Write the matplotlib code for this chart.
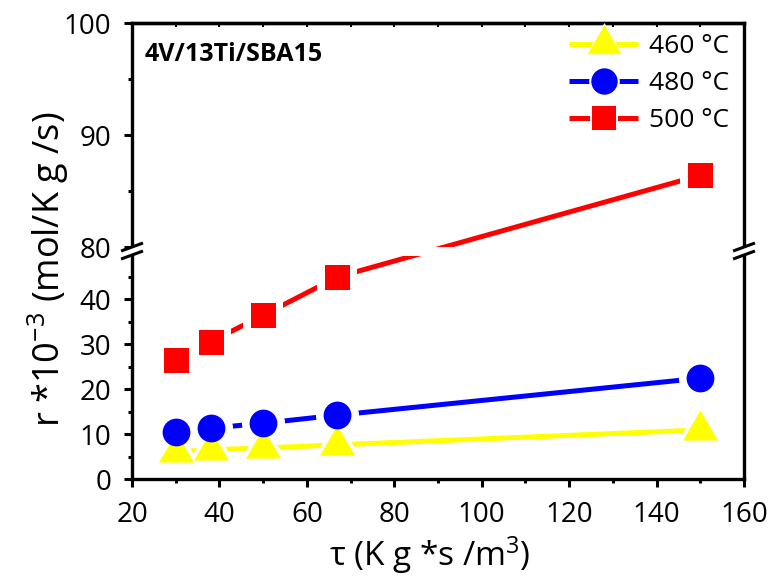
import numpy as np
import matplotlib
matplotlib.use('Agg')
import matplotlib.pyplot as plt
from matplotlib.lines import Line2D
from matplotlib.patches import Polygon
from matplotlib.legend_handler import HandlerTuple

# data
tau = [30, 38, 50, 67, 150]
r_460 = [6.1, 6.5, 6.9, 7.6, 10.9]
r_480 = [10.5, 11.3, 12.4, 14.2, 22.4]
r_500 = [26.4, 30.5, 36.4, 44.9, 86.4]
labels = ['460 °C', '480 °C', '500 °C']
colors = ['#ffff00', '#0000ff', '#ff0000']

y_major = [0, 10, 20, 30, 40, 80, 90, 100]
y_minor = [5, 15, 25, 35, 45, 85, 95]
x_major = list(range(20, 161, 20))
x_minor = list(range(30, 151, 20))

plt.rcParams['font.family'] = ['Open Sans', 'DejaVu Sans']
plt.rcParams['mathtext.fontset'] = 'custom'
plt.rcParams['mathtext.rm'] = 'Open Sans'
plt.rcParams['mathtext.default'] = 'rm'

# broken y axis: 0-49.5 below, 80-100 above, squeezed gap in between
y_in = [0, 49.5, 80, 100]
y_out = [0, 222.75, 232, 456]


def fwd(v):
  v = np.asarray(v, float)
  return np.where(v < 0, v * 4.5,
                  np.where(v > 100, 456 + (v - 100) * 11.2, np.interp(v, y_in, y_out)))


def inv(p):
  p = np.asarray(p, float)
  return np.where(p < 0, p / 4.5,
                  np.where(p > 456, 100 + (p - 456) / 11.2, np.interp(p, y_out, y_in)))


tri = [(0, 1), (-0.866, -0.5), (0.866, -0.5)]
series = [(r_460, tri, 29), (r_480, 'o', 20), (r_500, 's', 18)]

fig = plt.figure(figsize=(7.73, 5.8), dpi=100)
ax = fig.add_axes([0.1708, 0.1741, 0.7917, 0.7862])
ax.set_yscale('function', functions=(fwd, inv))

handles = []
for (y, m, ms), c in zip(series, colors):
  ax.plot(tau, y, color=c, lw=3.6, zorder=2, solid_capstyle='butt')
  ax.plot(tau, y, ls='none', marker=m, ms=ms + 11, color='white', mew=0, zorder=3)
  ax.plot(tau, y, ls='none', marker=m, ms=ms, color=c, mew=0, zorder=4)
  h = (Line2D([], [], color=c, lw=3.6, solid_capstyle='butt'),
       Line2D([], [], ls='none', marker=m, ms=ms + 2, color='white', mew=0),
       Line2D([], [], ls='none', marker=m, ms=ms - 1, color=c, mew=0))
  handles.append(h)

# gap across the plot at the break
ax.axhspan(49.5, 80, color='white', lw=0, zorder=2.2)

ax.set_xlim(20, 160)
ax.set_ylim(0, 100)
ax.set_xticks(x_major)
ax.set_xticks(x_minor, minor=True)
ax.set_yticks(y_major)
ax.set_yticks(y_minor, minor=True)
ax.tick_params(which='major', direction='out', length=6, width=2.2, labelsize=20)
ax.tick_params(which='minor', direction='out', length=3, width=2.2)
ax.tick_params(axis='x', which='major', pad=10)
ax.tick_params(axis='y', which='major', pad=9)
for s in ax.spines.values():
  s.set_linewidth(2.4)

top = ax.secondary_xaxis('top')
top.set_xticks(x_major + x_minor)
top.tick_params(direction='in', length=3, width=1.5, labeltop=False)
top.spines['top'].set_linewidth(2.4)

# break marks on left and right spines
dx = 9.5 / 612
t = 3.5 / 456
ys = [0.5 - 4 / 456, 0.5 + 4 / 456]
for x0 in [0, 1]:
  poly = Polygon([(x0 - dx, ys[0] - t), (x0 + dx, ys[0] + t),
                  (x0 + dx, ys[1] + t), (x0 - dx, ys[1] - t)],
                 closed=True, transform=ax.transAxes, color='white',
                 lw=0, clip_on=False, zorder=5)
  ax.add_patch(poly)
  for yc in ys:
    ax.plot([x0 - dx, x0 + dx], [yc - t, yc + t], color='black', lw=2.2,
            transform=ax.transAxes, clip_on=False, zorder=6)

ax.text(0.02, 0.93, '4V/13Ti/SBA15', transform=ax.transAxes,
        fontsize=18, fontweight='bold', va='center', ha='left')

ax.legend(handles, labels, handler_map={tuple: HandlerTuple(ndivide=1, pad=0)},
          loc='upper right', bbox_to_anchor=(0.975, 0.975), frameon=False,
          fontsize=19, handlelength=2.6, handletextpad=0.4, labelspacing=0.45,
          borderpad=0, borderaxespad=0)

ax.set_xlabel('τ (K g *s /m$^3$)', fontsize=24)
ax.xaxis.set_label_coords(0.487, -0.12)
ax.set_ylabel('r *10$^{-3}$ (mol/K g /s)', fontsize=26)
ax.yaxis.set_label_coords(-0.1, 0.46)

fig.savefig('out.png', dpi=100)
